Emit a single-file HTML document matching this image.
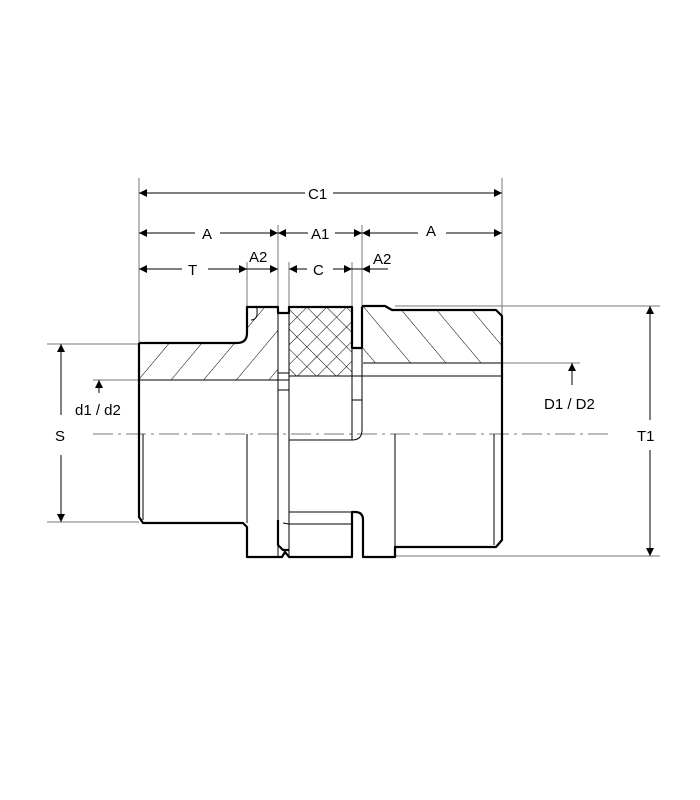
<!DOCTYPE html>
<html><head><meta charset="utf-8"><style>
html,body{margin:0;padding:0;background:#fff;}
svg{display:block;}
text{font-family:"Liberation Sans",Arial,sans-serif;font-size:15px;fill:#000;}
</style></head><body>
<svg width="700" height="800" viewBox="0 0 700 800" xmlns="http://www.w3.org/2000/svg">
<defs>
<marker id="ar" viewBox="0 0 10 10" refX="10" refY="5" markerWidth="10" markerHeight="8" orient="auto-start-reverse" markerUnits="userSpaceOnUse"><path d="M0,0L10,5L0,10z" fill="#000"/></marker>
<pattern id="h1" patternUnits="userSpaceOnUse" width="25" height="25" patternTransform="rotate(40)"><line x1="0" y1="0" x2="0" y2="25" stroke="#000" stroke-width="1"/></pattern>
<pattern id="h2" patternUnits="userSpaceOnUse" width="27" height="27" patternTransform="rotate(-40)"><line x1="0" y1="0" x2="0" y2="27" stroke="#000" stroke-width="1"/></pattern>
<pattern id="hx" patternUnits="userSpaceOnUse" width="14" height="14" patternTransform="rotate(45)"><line x1="0" y1="0" x2="0" y2="14" stroke="#000" stroke-width="1"/><line x1="0" y1="0" x2="14" y2="0" stroke="#000" stroke-width="1"/></pattern>
</defs>
<g stroke="#777" stroke-width="1" fill="none">
<line x1="139" y1="178" x2="139" y2="343"/>
<line x1="502" y1="178" x2="502" y2="315"/>
<line x1="278" y1="225" x2="278" y2="307"/>
<line x1="362" y1="225" x2="362" y2="307"/>
<line x1="247" y1="262" x2="247" y2="307"/>
<line x1="289" y1="262" x2="289" y2="307"/>
<line x1="352" y1="262" x2="352" y2="307"/>
<line x1="47" y1="344" x2="139" y2="344"/>
<line x1="47" y1="522" x2="139" y2="522"/>
<line x1="93" y1="380" x2="139" y2="380"/>
<line x1="395" y1="306" x2="660" y2="306"/>
<line x1="395" y1="556" x2="660" y2="556"/>
<line x1="502" y1="363" x2="580" y2="363"/>
<line x1="93" y1="434" x2="612" y2="434" stroke-dasharray="20,5,3,5"/>
</g>
<g stroke="#000" stroke-width="1" fill="none">
<line x1="139" y1="193" x2="305" y2="193" marker-start="url(#ar)"/>
<line x1="333" y1="193" x2="502" y2="193" marker-end="url(#ar)"/>
<line x1="139" y1="233" x2="195" y2="233" marker-start="url(#ar)"/>
<line x1="220" y1="233" x2="278" y2="233" marker-end="url(#ar)"/>
<line x1="278" y1="233" x2="308" y2="233" marker-start="url(#ar)"/>
<line x1="335" y1="233" x2="362" y2="233" marker-end="url(#ar)"/>
<line x1="362" y1="233" x2="418" y2="233" marker-start="url(#ar)"/>
<line x1="446" y1="233" x2="502" y2="233" marker-end="url(#ar)"/>
<line x1="139" y1="269" x2="182" y2="269" marker-start="url(#ar)"/>
<line x1="208" y1="269" x2="247" y2="269" marker-end="url(#ar)"/>
<line x1="247" y1="269" x2="278" y2="269" marker-end="url(#ar)"/>
<line x1="289" y1="269" x2="307" y2="269" marker-start="url(#ar)"/>
<line x1="333" y1="269" x2="352" y2="269" marker-end="url(#ar)"/>
<line x1="352" y1="269" x2="362" y2="269"/>
<line x1="362" y1="269" x2="388" y2="269" marker-start="url(#ar)"/>
<line x1="61" y1="344" x2="61" y2="415" marker-start="url(#ar)"/>
<line x1="61" y1="455" x2="61" y2="522" marker-end="url(#ar)"/>
<line x1="99" y1="393" x2="99" y2="380" marker-end="url(#ar)"/>
<line x1="650" y1="306" x2="650" y2="420" marker-start="url(#ar)"/>
<line x1="650" y1="450" x2="650" y2="556" marker-end="url(#ar)"/>
<line x1="572" y1="385" x2="572" y2="363" marker-end="url(#ar)"/>
</g>
<text x="308" y="199">C1</text>
<text x="202" y="239">A</text>
<text x="311" y="239">A1</text>
<text x="426" y="236">A</text>
<text x="188" y="275">T</text>
<text x="249" y="262">A2</text>
<text x="313" y="275">C</text>
<text x="373" y="264">A2</text>
<text x="55" y="441">S</text>
<text x="75" y="415">d1 / d2</text>
<text x="637" y="441">T1</text>
<text x="544" y="409">D1 / D2</text>
<path d="M139,343 L237,343 Q247,343 247,333 L247,307 L278,307 L278,380 L139,380 Z" fill="url(#h1)" stroke="none"/>
<rect x="289" y="307" width="63" height="69" fill="url(#hx)"/>
<path d="M363,306 L385,306 L392,310 L496,310 L502,316 L502,363 L363,363 Z" fill="url(#h2)" stroke="none"/>
<g stroke="#000" stroke-width="1" fill="none">
<line x1="139" y1="380" x2="289" y2="380"/>
<line x1="289" y1="376" x2="502" y2="376"/>
<line x1="363" y1="363" x2="502" y2="363"/>
<line x1="278" y1="307" x2="278" y2="557"/>
<line x1="289" y1="307" x2="289" y2="557"/>
<line x1="352" y1="313" x2="352" y2="440"/>
<path d="M362,348 L362,430 Q362,440 352,440 L289,440"/>
<line x1="352" y1="400" x2="362" y2="400"/>
<line x1="278" y1="373" x2="289" y2="373"/>
<line x1="278" y1="390" x2="289" y2="390"/>
<line x1="143" y1="434" x2="143" y2="520"/>
<line x1="247" y1="434" x2="247" y2="523"/>
<line x1="395" y1="434" x2="395" y2="557"/>
<line x1="494" y1="434" x2="494" y2="545"/>
<path d="M289,512 L352,512 M289,524 L352,524 M289,524 L283,523"/>
<path d="M251,320 a6,6 0 0 0 6,-7 L257,307" />
</g>
<g stroke="#000" stroke-width="2.2" fill="none" stroke-linejoin="round">
<path d="M139,343 L237,343 Q247,343 247,333 L247,307 L278,307 L278,313 L289,313 L289,307 L352,307 L352,348 L362,348 L362,307"/>
<path d="M362,307 L363,306 L385,306 L392,310 L496,310 L502,316 L502,540 L496,547 L395,547 L395,557 L363,557 L363,520 Q363,512 355,512 L352,512 L352,557 L289,557 L285,552 L282,557 L247,557 L247,527 L243,523 L143,523 L139,517 L139,343"/>
<path d="M278,520 L278,545 L283,550 L289,550"/>
</g>
</svg>
</body></html>
